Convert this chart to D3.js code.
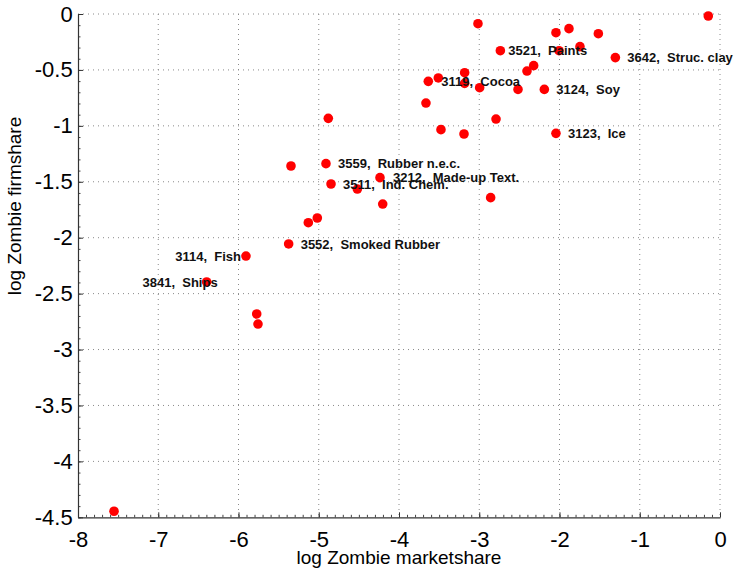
<!DOCTYPE html>
<html>
<head>
<meta charset="utf-8">
<script src="https://cdn.jsdelivr.net/npm/d3@7"></script>
<style>
  html, body { margin: 0; padding: 0; background: #fff; }
  svg { display: block; font-family: "Liberation Sans", Arial, sans-serif; }
  .lbl { white-space: pre; }
</style>
</head>
<body>
<svg id="chart" width="735" height="575"></svg>
<script>
// ---- Data ----
const logMarketshare = [
  -3.016, -2.737, -3.182, -3.510, -3.635, -3.182, -2.995, -3.664, -4.881, -3.477,
  -3.190, -2.791, -5.346, -4.910, -4.847, -4.237, -4.519, -2.858, -4.203, -5.018,
  -5.130, -5.375, -5.907, -6.397, -5.773, -5.757, -7.551, -0.146, -2.044, -1.882,
  -1.516, -2.006, -1.745, -1.304, -2.322, -2.405, -2.517, -2.189, -2.044
];
const logFirmshare = [
  -0.087, -0.328, -0.525, -0.572, -0.602, -0.620, -0.659, -0.796, -0.933, -1.034,
  -1.073, -0.939, -1.359, -1.338, -1.520, -1.463, -1.565, -1.642, -1.699, -1.824,
  -1.866, -2.056, -2.164, -2.396, -2.682, -2.772, -4.446, -0.018, -0.167, -0.131,
  -0.176, -0.328, -0.292, -0.390, -0.462, -0.510, -0.674, -0.674, -1.067
];
// labelled points: index into the series above, ISIC code, industry name
const labelPoint = [1, 4, 33, 37, 38, 13, 15, 14, 21, 22, 23];
const labelCode  = ["3521", "3119", "3642", "3124", "3123", "3559", "3212", "3511", "3552", "3114", "3841"];
const labelName  = ["Paints", "Cocoa", "Struc. clay", "Soy", "Ice", "Rubber n.e.c.", "Made-up Text.", "Ind. Chem.", "Smoked Rubber", "Fish", "Ships"];
const xTicks = [-8, -7, -6, -5, -4, -3, -2, -1, 0];
const yTicks = [-4.5, -4, -3.5, -3, -2.5, -2, -1.5, -1, -0.5, 0];
const xTitle = "log Zombie marketshare";
const yTitle = "log Zombie firmshare";

// ---- Layout / style (not data) ----
const labelStyle = {  // per-label anchor and pixel offset
  "3521": {anchor: "start", dx: 8},
  "3119": {anchor: "start", dx: 13},
  "3642": {anchor: "start", dx: 12},
  "3124": {anchor: "start", dx: 12},
  "3123": {anchor: "start", dx: 12},
  "3559": {anchor: "start", dx: 12},
  "3212": {anchor: "start", dx: 13},
  "3511": {anchor: "start", dx: 12},
  "3552": {anchor: "start", dx: 12},
  "3114": {anchor: "end", dx: -5},
  "3841": {anchor: "end", dx: 11}
};

const svg = d3.select("#chart");
const L = 78, R = 720, T = 14, B = 517.3;
const x = d3.scaleLinear().domain([-8, 0]).range([L, R]);
const y = d3.scaleLinear().domain([-4.5, 0]).range([B, T]);

// grid (dotted)
const grid = svg.append("g");
grid.selectAll("line.gx").data(xTicks.filter(d => d > -8)).join("line")
  .attr("x1", d => x(d)).attr("x2", d => x(d)).attr("y1", T).attr("y2", B)
  .attr("stroke", "#8a8a8a").attr("stroke-width", 1).attr("stroke-dasharray", "1,4");
grid.selectAll("line.gy").data(yTicks.filter(d => d > -4.5)).join("line")
  .attr("x1", L).attr("x2", R).attr("y1", d => y(d)).attr("y2", d => y(d))
  .attr("stroke", "#8a8a8a").attr("stroke-width", 1).attr("stroke-dasharray", "1,4");

// points
const pts = logMarketshare.map((v, i) => ({x: v, y: logFirmshare[i]}));
svg.append("g").selectAll("circle").data(pts).join("circle")
  .attr("cx", d => x(d.x)).attr("cy", d => y(d.y)).attr("r", 4.8)
  .attr("fill", "#ff0000");

// labels
const labs = labelPoint.map((p, i) => ({p: pts[p], code: labelCode[i], name: labelName[i]}));
svg.append("g").selectAll("text").data(labs).join("text")
  .attr("class", "lbl")
  .attr("x", d => x(d.p.x) + labelStyle[d.code].dx)
  .attr("y", d => y(d.p.y))
  .attr("dy", "0.36em")
  .attr("text-anchor", d => labelStyle[d.code].anchor)
  .attr("font-size", 13).attr("font-weight", "bold").attr("fill", "#111")
  .text(d => d.code + ",  " + d.name);

// axes
const fmt = d => String(d);
const xMinor = d3.range(-80, 1).map(i => i / 10);
const yMinor = d3.range(-45, 1).map(i => i / 10);

const gxMinor = svg.append("g").attr("transform", `translate(0,${B})`)
  .call(d3.axisBottom(x).tickValues(xMinor).tickSize(-2.5).tickSizeOuter(0).tickFormat(""));
gxMinor.select(".domain").remove();
gxMinor.selectAll("line").attr("stroke", "#444");

const gyMinor = svg.append("g").attr("transform", `translate(${L},0)`)
  .call(d3.axisLeft(y).tickValues(yMinor).tickSize(-2.5).tickSizeOuter(0).tickFormat(""));
gyMinor.select(".domain").remove();
gyMinor.selectAll("line").attr("stroke", "#444");

const gx = svg.append("g").attr("transform", `translate(0,${B})`)
  .call(d3.axisBottom(x).tickValues(xTicks).tickSize(-5).tickSizeOuter(0).tickPadding(14.5).tickFormat(fmt));
gx.select(".domain").attr("stroke", "#333").attr("stroke-width", 1.2);
gx.selectAll("line").attr("stroke", "#333");
gx.selectAll("text").attr("font-size", 22).attr("fill", "#000")
  .attr("font-family", "'Liberation Sans', Arial, sans-serif");

const gy = svg.append("g").attr("transform", `translate(${L},0)`)
  .call(d3.axisLeft(y).tickValues(yTicks).tickSize(-5).tickSizeOuter(0).tickPadding(5.3).tickFormat(fmt));
gy.select(".domain").attr("stroke", "#333").attr("stroke-width", 1.2);
gy.selectAll("line").attr("stroke", "#333");
gy.selectAll("text").attr("font-size", 22).attr("fill", "#000")
  .attr("font-family", "'Liberation Sans', Arial, sans-serif");

// axis titles
svg.append("text").attr("x", (L + R) / 2).attr("y", 564)
  .attr("text-anchor", "middle").attr("font-size", 19).attr("fill", "#000")
  .text(xTitle);
svg.append("text").attr("transform", "translate(21,206) rotate(-90)")
  .attr("text-anchor", "middle").attr("font-size", 19).attr("fill", "#000")
  .text(yTitle);
</script>
</body>
</html>
